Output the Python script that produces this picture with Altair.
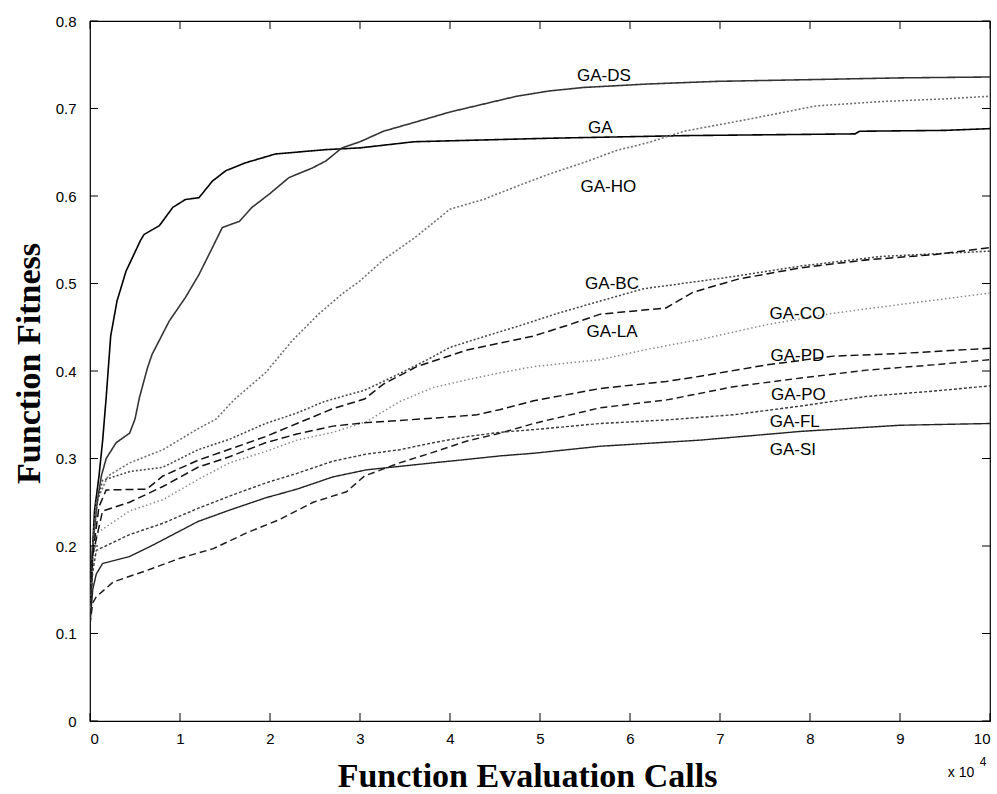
import altair as alt
import pandas as pd

# ---- data (x in units of 10^4 function evaluation calls) ----
ga_x = [0, 0.02, 0.05, 0.1, 0.14, 0.18, 0.23, 0.3, 0.4, 0.56, 0.6, 0.77, 0.92, 1.06, 1.21, 1.36, 1.51, 1.73, 2.06, 2.62, 3.0, 3.6, 5.1, 6.6, 8.5, 8.55, 9.5, 10]
ga_y = [0.11, 0.18, 0.24, 0.28, 0.32, 0.37, 0.44, 0.48, 0.514, 0.549, 0.556, 0.566, 0.587, 0.596, 0.598, 0.617, 0.629, 0.638, 0.648, 0.653, 0.655, 0.662, 0.666, 0.669, 0.671, 0.674, 0.675, 0.677]

ds_x = [0, 0.03, 0.08, 0.126, 0.18, 0.29, 0.44, 0.5, 0.55, 0.64, 0.69, 0.88, 1.06, 1.21, 1.36, 1.47, 1.66, 1.8, 1.99, 2.21, 2.47, 2.62, 2.8, 3.0, 3.26, 3.6, 4.0, 4.37, 4.74, 5.1, 5.48, 6.2, 6.96, 8.0, 9.0, 10]
ds_y = [0.11, 0.2, 0.25, 0.28, 0.3, 0.318, 0.329, 0.345, 0.37, 0.404, 0.419, 0.457, 0.484, 0.51, 0.541, 0.564, 0.571, 0.587, 0.602, 0.621, 0.632, 0.64, 0.655, 0.662, 0.674, 0.684, 0.696, 0.705, 0.714, 0.72, 0.724, 0.728, 0.731, 0.733, 0.735, 0.736]

ho_x = [0, 0.03, 0.07, 0.2, 0.44, 0.81, 1.2, 1.4, 1.6, 1.95, 2.25, 2.54, 2.8, 3.0, 3.26, 3.63, 4.0, 4.37, 4.74, 5.1, 5.48, 5.85, 6.2, 6.6, 7.33, 8.07, 8.8, 9.5, 10]
ho_y = [0.12, 0.2, 0.25, 0.28, 0.295, 0.31, 0.334, 0.345, 0.367, 0.398, 0.435, 0.465, 0.488, 0.503, 0.527, 0.554, 0.585, 0.596, 0.611, 0.625, 0.638, 0.652, 0.661, 0.674, 0.688, 0.703, 0.708, 0.711, 0.714]

bc_x = [0, 0.03, 0.08, 0.14, 0.44, 0.81, 1.2, 1.55, 1.95, 2.3, 2.6, 3.05, 3.4, 3.75, 4.0, 4.4, 4.75, 5.2, 5.67, 6.15, 6.8, 7.15, 7.9, 8.8, 9.4, 10]
bc_y = [0.11, 0.2, 0.25, 0.275, 0.285, 0.29, 0.31, 0.322, 0.34, 0.352, 0.365, 0.378, 0.395, 0.413, 0.427, 0.44, 0.451, 0.466, 0.48, 0.494, 0.503, 0.508, 0.52, 0.531, 0.534, 0.537]

la_x = [0, 0.03, 0.1, 0.18, 0.63, 0.81, 1.2, 1.59, 1.95, 2.3, 2.7, 3.05, 3.26, 3.63, 4.19, 4.93, 5.3, 5.67, 6.4, 6.7, 7.2, 7.9, 8.63, 9.37, 10]
la_y = [0.11, 0.19, 0.245, 0.264, 0.265, 0.28, 0.298, 0.312, 0.325, 0.34, 0.357, 0.368, 0.385, 0.405, 0.424, 0.44, 0.452, 0.465, 0.472, 0.49, 0.505, 0.518, 0.527, 0.533, 0.541]

co_x = [0, 0.03, 0.08, 0.44, 0.81, 1.2, 1.55, 1.95, 2.3, 2.7, 3.07, 3.44, 3.81, 4.19, 4.56, 4.93, 5.67, 6.2, 6.78, 7.52, 8.26, 9.0, 10]
co_y = [0.12, 0.18, 0.215, 0.24, 0.253, 0.276, 0.295, 0.308, 0.321, 0.33, 0.342, 0.365, 0.381, 0.39, 0.398, 0.405, 0.413, 0.425, 0.436, 0.453, 0.466, 0.476, 0.489]

pd_x = [0, 0.03, 0.14, 0.44, 0.81, 1.2, 1.55, 1.95, 2.3, 2.7, 3.07, 3.81, 4.3, 4.56, 4.93, 5.67, 6.4, 6.78, 7.52, 8.26, 9.0, 10]
pd_y = [0.12, 0.19, 0.24, 0.25, 0.268, 0.29, 0.302, 0.318, 0.328, 0.337, 0.341, 0.346, 0.35, 0.356, 0.366, 0.38, 0.388, 0.394, 0.407, 0.417, 0.42, 0.426]

po_x = [0, 0.03, 0.07, 0.26, 0.63, 1.0, 1.37, 1.74, 2.1, 2.48, 2.85, 3.05, 3.44, 3.81, 4.19, 4.56, 4.93, 5.67, 6.41, 7.15, 7.9, 8.63, 9.37, 10]
po_y = [0.11, 0.135, 0.142, 0.159, 0.172, 0.186, 0.197, 0.215, 0.23, 0.25, 0.262, 0.28, 0.295, 0.307, 0.32, 0.329, 0.34, 0.358, 0.367, 0.382, 0.392, 0.401, 0.407, 0.413]

fl_x = [0, 0.03, 0.07, 0.44, 0.81, 1.2, 1.55, 1.95, 2.3, 2.7, 3.07, 3.44, 3.81, 4.19, 4.56, 4.93, 5.67, 6.4, 7.15, 7.9, 8.63, 9.37, 10]
fl_y = [0.12, 0.17, 0.195, 0.213, 0.226, 0.243, 0.257, 0.272, 0.283, 0.297, 0.305, 0.31, 0.318, 0.325, 0.33, 0.333, 0.34, 0.344, 0.35, 0.36, 0.371, 0.377, 0.383]

si_x = [0, 0.03, 0.07, 0.14, 0.44, 0.66, 0.81, 1.2, 1.55, 1.95, 2.3, 2.7, 3.07, 3.44, 3.81, 4.19, 4.56, 4.93, 5.67, 6.78, 7.9, 9.0, 10]
si_y = [0.11, 0.15, 0.168, 0.18, 0.188, 0.199, 0.207, 0.228, 0.241, 0.255, 0.265, 0.279, 0.287, 0.291, 0.295, 0.299, 0.303, 0.306, 0.314, 0.321, 0.331, 0.338, 0.34]

series_names = ["GA", "GA-DS", "GA-HO", "GA-BC", "GA-LA", "GA-CO", "GA-PD", "GA-PO", "GA-FL", "GA-SI"]
series_x = [ga_x, ds_x, ho_x, bc_x, la_x, co_x, pd_x, po_x, fl_x, si_x]
series_y = [ga_y, ds_y, ho_y, bc_y, la_y, co_y, pd_y, po_y, fl_y, si_y]

label_x = [5.67, 5.71, 5.76, 5.8, 5.8, 7.86, 7.86, 7.87, 7.83, 7.81]
label_y = [0.678, 0.737, 0.61, 0.499, 0.445, 0.465, 0.417, 0.373, 0.342, 0.31]

x_ticks = [0, 1, 2, 3, 4, 5, 6, 7, 8, 9, 10]
y_ticks = [0, 0.1, 0.2, 0.3, 0.4, 0.5, 0.6, 0.7, 0.8]

# ---- styles ----
line_colors = ["#000000", "#333333", "#6e6e6e", "#444444", "#111111", "#8a8a8a", "#111111", "#1a1a1a", "#3a3a3a", "#222222"]
line_dashes = [[1, 0], [1, 0], [2, 2], [2, 2], [8, 4], [1.5, 2.5], [8, 4], [7, 4], [3, 2], [1, 0]]
line_widths = [1.6, 1.4, 1.4, 1.4, 1.6, 1.4, 1.6, 1.5, 1.4, 1.5]

rows = []
for name, xs, ys in zip(series_names, series_x, series_y):
    for i, (xv, yv) in enumerate(zip(xs, ys)):
        rows.append({"series": name, "calls": xv, "fitness": yv, "idx": i})
df = pd.DataFrame(rows)
labels_df = pd.DataFrame({"label": series_names, "lx": label_x, "ly": label_y})

W, H = 900, 700
xscale = alt.Scale(domain=[0, 10], nice=False, zero=False)
yscale = alt.Scale(domain=[0, 0.8], nice=False, zero=False)

x_axis = alt.Axis(values=x_ticks, format="d", ticks=False, domain=False, grid=False,
                  labelPadding=10, labelFontSize=15, labelFont="Liberation Sans", labelColor="black",
                  titleFont="Liberation Serif", titleFontWeight="bold",
                  titleFontSize=34, titleColor="black", titleX=437, titleY=65, titleAlign="center",
                  titleBaseline="alphabetic")
y_axis = alt.Axis(values=y_ticks, format="~g", ticks=False, domain=False, grid=False,
                  labelPadding=14, labelFontSize=15, labelFont="Liberation Sans", labelColor="black",
                  titleFont="Liberation Serif", titleFontWeight="bold",
                  titleFontSize=34, titleColor="black", titleX=-61, titleY=342, titleAlign="center",
                  titleBaseline="middle", titleAngle=270)
XT = "Function Evaluation Calls"
YT = "Function Fitness"

lines = alt.Chart(df).mark_line(clip=True).encode(
    x=alt.X("calls:Q", scale=xscale, axis=x_axis, title=XT),
    y=alt.Y("fitness:Q", scale=yscale, axis=y_axis, title=YT),
    color=alt.Color("series:N", scale=alt.Scale(domain=series_names, range=line_colors), legend=None),
    strokeDash=alt.StrokeDash("series:N", scale=alt.Scale(domain=series_names, range=line_dashes), legend=None),
    strokeWidth=alt.StrokeWidth("series:N", scale=alt.Scale(domain=series_names, range=line_widths), legend=None),
    order=alt.Order("idx:Q"),
)

labels = alt.Chart(labels_df).mark_text(font="Liberation Sans", fontSize=17, color="black",
                                        align="center", baseline="middle").encode(
    x=alt.X("lx:Q", scale=xscale, axis=x_axis, title=XT),
    y=alt.Y("ly:Q", scale=yscale, axis=y_axis, title=YT),
    text="label:N",
)

xt = pd.DataFrame({"t": x_ticks})
yt = pd.DataFrame({"t": y_ticks})
TL = 8
tick_bottom = alt.Chart(xt).mark_rule(color="black", strokeWidth=1).encode(
    x=alt.X("t:Q", scale=xscale, axis=x_axis, title=XT), y=alt.value(H), y2=alt.value(H - TL))
tick_top = alt.Chart(xt).mark_rule(color="black", strokeWidth=1).encode(
    x=alt.X("t:Q", scale=xscale, axis=x_axis, title=XT), y=alt.value(0), y2=alt.value(TL))
tick_left = alt.Chart(yt).mark_rule(color="black", strokeWidth=1).encode(
    y=alt.Y("t:Q", scale=yscale, axis=y_axis, title=YT), x=alt.value(0), x2=alt.value(TL))
tick_right = alt.Chart(yt).mark_rule(color="black", strokeWidth=1).encode(
    y=alt.Y("t:Q", scale=yscale, axis=y_axis, title=YT), x=alt.value(W), x2=alt.value(W - TL))

one = pd.DataFrame({"a": [0]})
exp_base = alt.Chart(one).mark_text(font="Liberation Sans", fontSize=14, color="black",
                                    align="center", baseline="middle").encode(
    x=alt.value(871), y=alt.value(752), text=alt.value("x 10"))
exp_sup = alt.Chart(one).mark_text(font="Liberation Sans", fontSize=12, color="black",
                                   align="center", baseline="middle").encode(
    x=alt.value(893), y=alt.value(741), text=alt.value("4"))

chart = alt.layer(lines, labels, tick_bottom, tick_top, tick_left, tick_right, exp_base, exp_sup).properties(
    width=W, height=H,
    autosize=alt.AutoSizeParams(type="none"),
    padding={"left": 90, "top": 21, "right": 7, "bottom": 73},
    background="white",
).configure_view(stroke="black", strokeWidth=1.2)

chart.save("out.html", embed_options={"renderer": "svg", "actions": False})
